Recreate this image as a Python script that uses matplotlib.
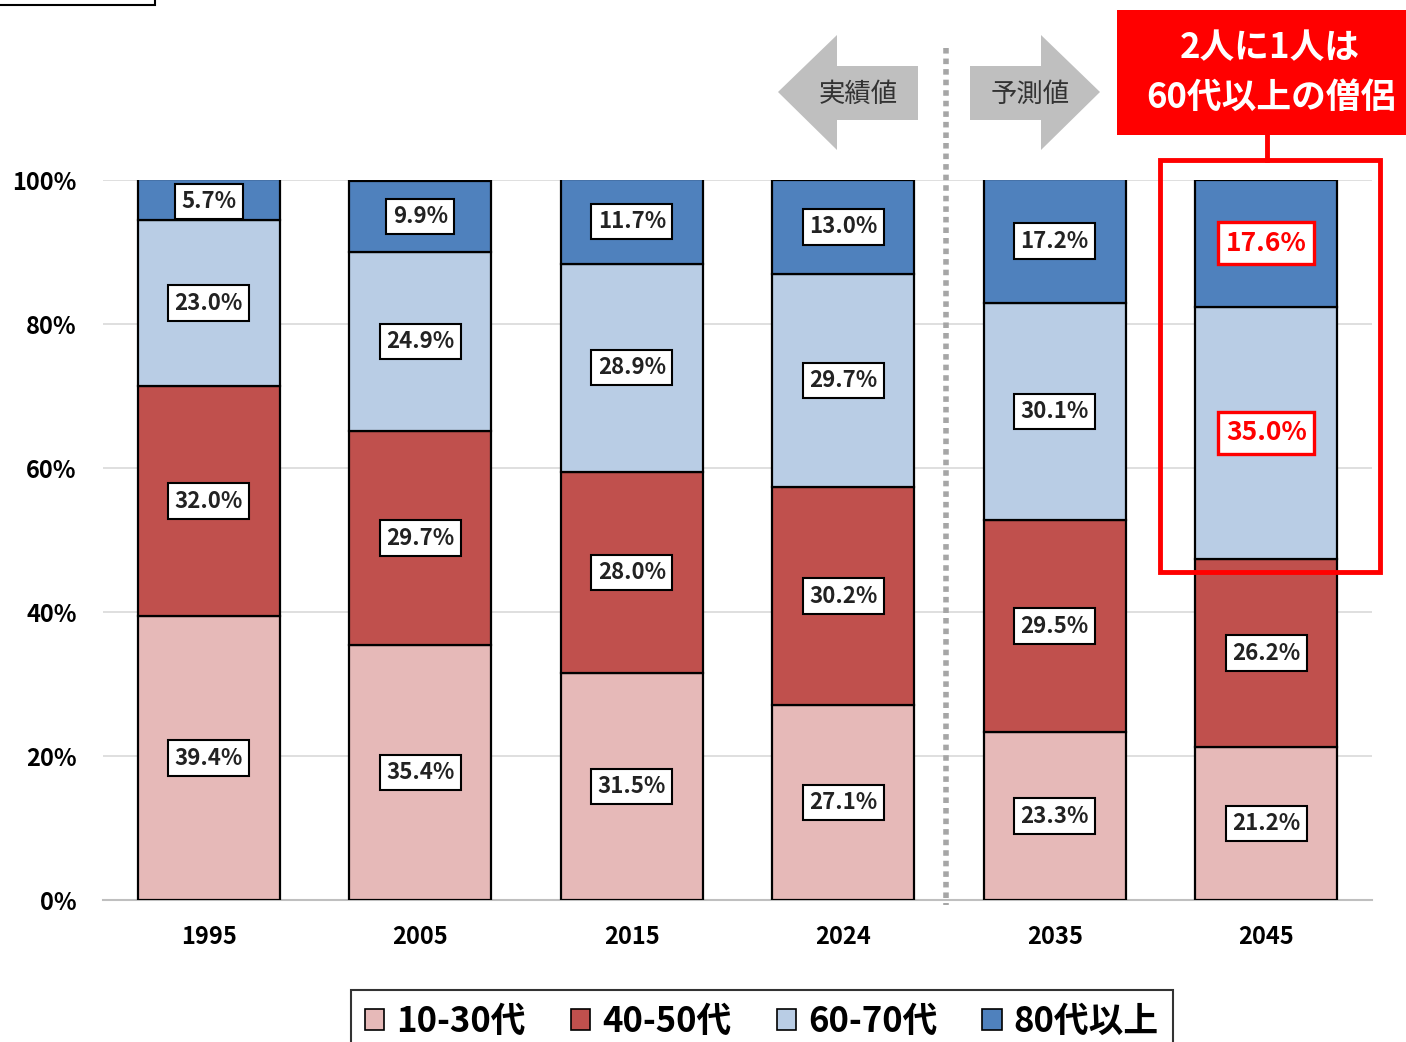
import numpy as np
import matplotlib; matplotlib.use('Agg')
import matplotlib.pyplot as plt
from matplotlib.patches import Rectangle, Polygon, Patch
from matplotlib.lines import Line2D

plt.rcParams['font.family'] = ['Noto Sans CJK JP', 'DejaVu Sans']

# ---------------------------------------------------------------------------
# data (share of monks by age group, %)
# ---------------------------------------------------------------------------
years = ['1995', '2005', '2015', '2024', '2035', '2045']
age_labels = ['10-30代', '40-50代', '60-70代', '80代以上']
age_10_30 = [39.4, 35.4, 31.5, 27.1, 23.3, 21.2]
age_40_50 = [32.0, 29.7, 28.0, 30.2, 29.5, 26.2]
age_60_70 = [23.0, 24.9, 28.9, 29.7, 30.1, 35.0]
age_80_up = [5.7, 9.9, 11.7, 13.0, 17.2, 17.6]
colors = ['#E6B9B8', '#C0504D', '#B9CDE5', '#4F81BD']
yticks = [0, 20, 40, 60, 80, 100]

W, H = 1406, 1042
fig = plt.figure(figsize=(W / 100, H / 100), dpi=100)


def fx(x):
    return x / W


def fy(y):
    return 1 - y / H


ax = fig.add_axes([fx(103), fy(900), (1372 - 103) / W, 720 / H])

x = np.arange(len(years))
series = [age_10_30, age_40_50, age_60_70, age_80_up]
bottom = np.zeros(len(years))
for vals, col, lab in zip(series, colors, age_labels):
    vals = np.array(vals)
    ax.bar(x, vals, width=0.67, bottom=bottom, color=col,
           edgecolor='black', linewidth=1.6, label=lab, zorder=3)
    for i, v in enumerate(vals):
        # small top value of 1995 sits against the frame top in the source
        yc = bottom[i] + v / 2
        if v < 7:
            yc = 100 - 3.0
        hl = (i == len(years) - 1) and lab in ('60-70代', '80代以上')
        tc = '#FF0000' if hl else '#222222'
        ec = '#FF0000' if hl else 'black'
        fs = 19 if hl else 16
        ax.text(i, yc, f'{v:.1f}%', ha='center', va='center',
                fontsize=fs, fontweight='bold', color=tc, zorder=5,
                bbox=dict(boxstyle='square,pad=0.28', fc='white',
                          ec=ec, lw=2.4 if hl else 1.5))
    bottom += vals

ax.set_xlim(-0.5, 5.5)
ax.set_ylim(0, 100)
ax.set_yticks(yticks)
ax.set_yticklabels([f'{t}%' for t in yticks], fontsize=17, fontweight='bold')
ax.set_xticks(x)
ax.set_xticklabels(years, fontsize=17, fontweight='bold')
ax.tick_params(length=0)
ax.tick_params(axis='y', pad=19)
ax.tick_params(axis='x', pad=18)
ax.grid(axis='y', color='#D9D9D9', lw=1.2, zorder=0)
for s in ['top', 'right', 'left']:
    ax.spines[s].set_visible(False)
ax.spines['bottom'].set_color('#BFBFBF')
ax.spines['bottom'].set_linewidth(1.5)

# dotted separator actual / forecast
fig.add_artist(Line2D([fx(946), fx(946)], [fy(48), fy(905)], color='#A6A6A6',
                      lw=4, linestyle=(0, (1, 0.9))))

# arrows
arrow_col = '#BFBFBF'
left_arrow = [(778, 92), (837, 35), (837, 66), (918, 66), (918, 120),
              (837, 120), (837, 150)]
right_arrow = [(1100, 92), (1041, 35), (1041, 66), (970, 66), (970, 120),
               (1041, 120), (1041, 150)]
for pts in (left_arrow, right_arrow):
    fig.add_artist(Polygon([(fx(a), fy(b)) for a, b in pts], closed=True,
                           fc=arrow_col, ec='none', transform=fig.transFigure))
fig.text(fx(858), fy(94), '実績値', ha='center', va='center', fontsize=19,
         color='#333333')
fig.text(fx(1030), fy(94), '予測値', ha='center', va='center', fontsize=19,
         color='#333333')

# red callout
fig.add_artist(Rectangle((fx(1117), fy(135)), (1420 - 1117) / W, 125 / H,
                         fc='#FF0000', ec='none', transform=fig.transFigure))
fig.text(fx(1270), fy(48), '2人に1人は', ha='center', va='center', fontsize=25,
         fontweight='bold', color='white')
fig.text(fx(1271), fy(97), '60代以上の僧侶', ha='center', va='center',
         fontsize=25, fontweight='bold', color='white')
fig.add_artist(Line2D([fx(1267), fx(1267)], [fy(135), fy(160)],
                      color='#FF0000', lw=3.5))
fig.add_artist(Rectangle((fx(1160), fy(572)), (1380 - 1160) / W, (572 - 160) / H,
                         fc='none', ec='#FF0000', lw=3.5,
                         transform=fig.transFigure, zorder=6))

# cut-off box in top-left corner
fig.add_artist(Rectangle((fx(-5), fy(5)), 160 / W, 20 / H, fc='none',
                         ec='black', lw=1.5, transform=fig.transFigure))

# legend
handles = [Patch(fc=c, ec='black', lw=1.2) for c in colors]
leg = fig.legend(handles, age_labels, loc='upper center', ncol=4,
                 bbox_to_anchor=(fx(762), fy(990)), borderaxespad=0,
                 frameon=True, fancybox=False, edgecolor='black',
                 prop=dict(size=25, weight='bold'),
                 handlelength=0.55, handleheight=0.55, handletextpad=0.35,
                 columnspacing=1.3, borderpad=0.4)
leg.get_frame().set_linewidth(1.5)

plt.savefig('out.png', dpi=100)
